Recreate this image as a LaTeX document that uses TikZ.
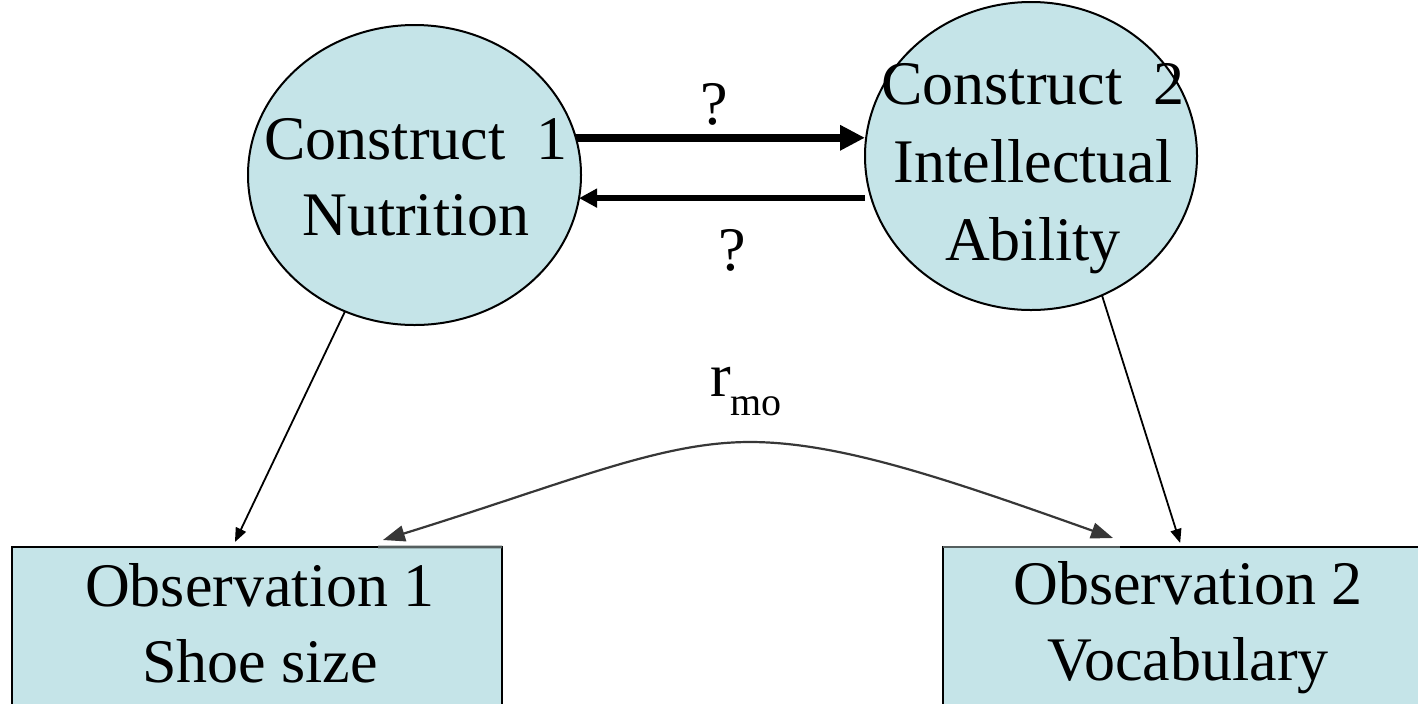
\documentclass[tikz,border=0pt]{standalone}
\usepackage{fontspec}
\setmainfont{Liberation Serif}
\usetikzlibrary{arrows.meta,shapes.geometric,calc}
\definecolor{paleblue}{RGB}{197,228,232}
\definecolor{edgegray}{RGB}{85,95,95}
\definecolor{curvegray}{RGB}{55,55,55}
\begin{document}
\begin{tikzpicture}[x=0.5pt,y=-0.5pt,
  construct/.style={ellipse,draw=black,line width=1pt,fill=paleblue,inner sep=0pt,outer sep=0pt},
  obsbox/.style={rectangle,draw=black,line width=1.3pt,fill=paleblue,inner sep=0pt,outer sep=0pt,
    minimum width=245pt,minimum height=100pt},
  txt/.style={font=\fontsize{31}{38}\selectfont,align=center,inner sep=0pt},
  bigarrow/.style={line width=4pt,-{Triangle[length=12.5pt,width=12pt]}},
  midarrow/.style={line width=2.7pt,-{Triangle[length=9pt,width=9pt]}},
  linkarrow/.style={line width=0.9pt,-{Triangle[length=7pt,width=5.5pt]}},
  corrarrow/.style={line width=1.1pt,draw=curvegray,
    {Triangle[length=11pt,width=8pt]}-{Triangle[length=11pt,width=8pt]}},
  graytop/.style={line width=1.3pt,draw=edgegray}
]
\useasboundingbox (0,0) rectangle (1418,703);

% latent constructs
\node[construct,minimum width=166.5pt,minimum height=150pt] (c1) at (414.5,175) {};
\node[construct,minimum width=166pt,minimum height=154pt] (c2) at (1031,156) {};
\node[txt] (c1text) at (416,177.5) {Construct\ \ 1\\Nutrition};
\node[txt] (c2text) at (1033,169) {Construct\ \ 2\\[1pt]Intellectual\\[1pt]Ability};

% observed measures
\node[obsbox] (b1) at (257,647) {};
\node[obsbox] (b2) at (1188,647) {};
\draw[graytop] ($(b1.north west)!0.747!(b1.north east)$) -- (b1.north east);
\draw[graytop] (b2.north west) -- ($(b2.north west)!0.361!(b2.north east)$);
\node[txt] (b1text) at (260,623) {Observation 1\\Shoe size};
\node[txt] (b2text) at (1188,628) {Observation 2\\Vocabulary};

% causal direction between constructs
\draw[bigarrow] (c1.13) -- (c1.13 -| c2.west);
\draw[midarrow] (c2.west |- c1.-8) -- (c1.-8);
\node[txt] (q1) at (714,104) {?};
\node[txt] (q2) at (732.5,250) {?};

% constructs to observations
\draw[linkarrow] (c1.243) -- ($(b1.north west)!0.455!(b1.north east)+(0,-5)$);
\draw[linkarrow] (c2.297) -- ($(b2.north west)!0.484!(b2.north east)+(0,-4)$);

% observed correlation
\draw[corrarrow] ($(b1.north west)!0.757!(b1.north east)+(0,-7)$)
  .. controls (570,482) and (660,442) .. (750,442)
  .. controls (840,442) and (950,480) .. ($(b2.north west)!0.347!(b2.north east)+(0,-9)$);
\node[txt] (rmo) at (746,392) {r\kern-0.5pt\raisebox{-9.5pt}{\fontsize{20}{20}\selectfont mo}};
\end{tikzpicture}
\end{document}
